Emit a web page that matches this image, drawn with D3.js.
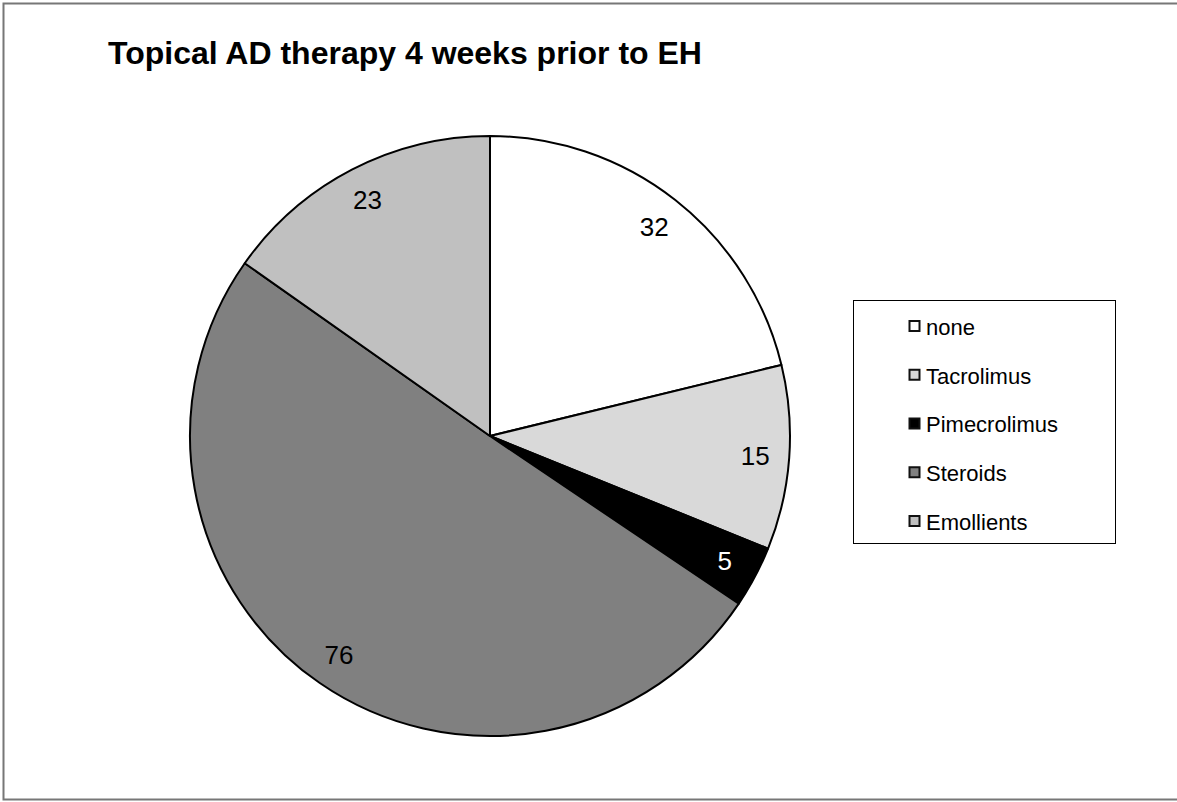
<!DOCTYPE html>
<html>
<head>
<meta charset="utf-8">
<script src="https://cdn.jsdelivr.net/npm/d3@7"></script>
<style>
  html, body { margin: 0; padding: 0; background: #fff; }
  svg { display: block; }
</style>
</head>
<body>
<svg id="chart" width="1177" height="802"></svg>
<script>
const title = "Topical AD therapy 4 weeks prior to EH";
const categories = ["none", "Tacrolimus", "Pimecrolimus", "Steroids", "Emollients"];
const values = [32, 15, 5, 76, 23];
const colors = ["#ffffff", "#d9d9d9", "#000000", "#808080", "#c0c0c0"];
const labelColors = ["#000000", "#000000", "#ffffff", "#000000", "#000000"];

const W = 1177, H = 802;
const svg = d3.select("#chart");

// outer frame
svg.append("rect")
  .attr("x", 3.5).attr("y", 3.5)
  .attr("width", W + 10).attr("height", 796)
  .attr("fill", "none").attr("stroke", "#777").attr("stroke-width", 2);

// title
svg.append("text")
  .attr("x", 108).attr("y", 64)
  .attr("font-family", "Liberation Sans, Arial, sans-serif")
  .attr("font-weight", "bold").attr("font-size", 32)
  .attr("fill", "#000")
  .text(title);

const cx = 490, cy = 436, R = 300;
const data = categories.map((c, i) => ({ name: c, value: values[i], color: colors[i], lc: labelColors[i] }));
const pie = d3.pie().sort(null).value(d => d.value).startAngle(0).endAngle(2 * Math.PI);
const arcs = pie(data);
const arc = d3.arc().innerRadius(0).outerRadius(R);
const labelArc = d3.arc().innerRadius(266).outerRadius(266);

const g = svg.append("g").attr("transform", `translate(${cx},${cy})`);
g.selectAll("path.slice").data(arcs).join("path")
  .attr("class", "slice")
  .attr("d", arc)
  .attr("fill", d => d.data.color)
  .attr("stroke", "#000").attr("stroke-width", 2).attr("stroke-linejoin", "round");

g.selectAll("text.lbl").data(arcs).join("text")
  .attr("class", "lbl")
  .attr("transform", d => `translate(${labelArc.centroid(d)})`)
  .attr("text-anchor", "middle").attr("dy", "0.36em")
  .attr("font-family", "Liberation Sans, Arial, sans-serif")
  .attr("font-size", 26)
  .attr("fill", d => d.data.lc)
  .text(d => d.data.value);

// legend
const lg = svg.append("g");
lg.append("rect")
  .attr("x", 853.5).attr("y", 300.5).attr("width", 262).attr("height", 243)
  .attr("fill", "#fff").attr("stroke", "#000").attr("stroke-width", 1);
const rowY = d3.scalePoint().domain(categories).range([327, 522]);
const items = lg.selectAll("g.item").data(data).join("g").attr("class", "item")
  .attr("transform", d => `translate(0,${rowY(d.name)})`);
items.append("rect")
  .attr("x", 909.5).attr("y", -6).attr("width", 10).attr("height", 10)
  .attr("fill", d => d.color).attr("stroke", "#111").attr("stroke-width", 2);
items.append("text")
  .attr("x", 926).attr("y", 0).attr("dy", "0.36em")
  .attr("font-family", "Liberation Sans, Arial, sans-serif")
  .attr("font-size", 22)
  .attr("fill", "#000")
  .text(d => d.name);
</script>
</body>
</html>
